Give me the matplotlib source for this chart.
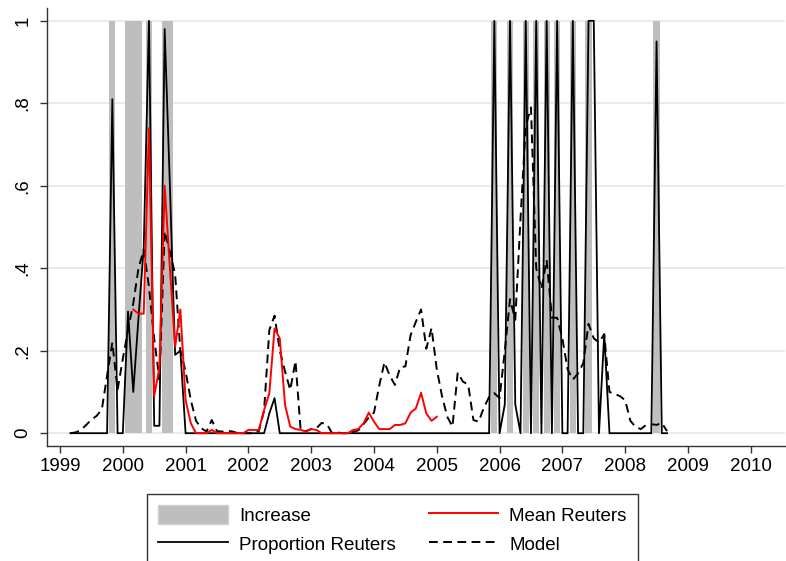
import matplotlib
matplotlib.use('Agg')
from matplotlib import pyplot as plt
from matplotlib.patches import Patch
from matplotlib.lines import Line2D
import numpy as np

matplotlib.rcParams['font.family'] = ['Liberation Sans', 'DejaVu Sans']
matplotlib.rcParams['font.size'] = 13.5

# months counted from Jan 1999 (0 = Jan 1999)
start_month = 2          # Mar 1999, first obs of proportion / model
red_start_month = 14     # Mar 2000, first obs of mean reuters

# months with a rate increase
increase_months = [10, 13, 14, 15, 17, 20, 21,
                   83, 86, 89, 91, 93, 95, 98, 101, 114]

# proportion of reuters poll expecting an increase, Mar 1999 - Sep 2008
proportion_reuters = [
	0, 0, 0, 0, 0, 0, 0, 0,                           # 1999 Mar-Oct
	0.81, 0, 0,                                       # Nov 1999 - Jan 2000
	0.295, 0.10, 0.28, 0.45, 1.0, 0.018, 0.018, 0.98, 0.6, 0.19, 0.2,
	0, 0, 0, 0, 0, 0, 0, 0, 0, 0, 0, 0,               # 2001
	0, 0, 0, 0, 0.048, 0.085, 0, 0, 0, 0, 0, 0,       # 2002
	0, 0, 0, 0, 0, 0, 0, 0, 0, 0, 0, 0,               # 2003
	0, 0, 0, 0, 0, 0, 0, 0, 0, 0, 0, 0,               # 2004
	0, 0, 0, 0, 0, 0, 0, 0, 0, 0, 0, 1,               # 2005
	0, 0.07, 1, 0.07, 0, 1, 0, 1, 0, 1, 0, 1,         # 2006
	0, 0, 1, 0, 0, 1, 1, 0, 0.24, 0, 0, 0,            # 2007
	0, 0, 0, 0, 0, 0, 0.95, 0, 0,                     # 2008 Jan-Sep
]

# model probability, Mar 1999 - Sep 2008
model = [
	0.0, 0.002, 0.008, 0.02, 0.033, 0.042, 0.058, 0.14, 0.22, 0.105,
	0.18, 0.25, 0.315, 0.40, 0.445, 0.355, 0.23, 0.13, 0.49, 0.44, 0.385, 0.20,
	0.15, 0.08, 0.03, 0.012, 0.004, 0.032, 0.005, 0.004, 0.006, 0.004, 0.0, 0.0,
	0.0, 0.0, 0.005, 0.055, 0.25, 0.285, 0.20, 0.15, 0.105, 0.175, 0.005, 0.005,
	0.01, 0.012, 0.025, 0.022, 0.0, 0.002, 0.0, 0.0, 0.003, 0.007, 0.022, 0.038,
	0.05, 0.115, 0.172, 0.14, 0.117, 0.16, 0.162, 0.238, 0.27, 0.30, 0.205, 0.255,
	0.155, 0.09, 0.04, 0.016, 0.147, 0.125, 0.118, 0.032, 0.028, 0.062, 0.088, 0.097,
	0.085, 0.20, 0.325, 0.275, 0.52, 0.745, 0.79, 0.40, 0.35, 0.42, 0.28, 0.28,
	0.23, 0.155, 0.13, 0.145, 0.17, 0.265, 0.23, 0.22, 0.24, 0.10, 0.095, 0.09,
	0.08, 0.03, 0.015, 0.01, 0.02, 0.022, 0.02, 0.025, 0.005,
]

# mean reuters expectation, Mar 2000 - Jan 2005
mean_reuters = [
	0.30, 0.29, 0.29, 0.74, 0.09, 0.16, 0.60, 0.40, 0.21, 0.30,
	0.08, 0.024, 0.0, 0.0, 0.0, 0.008, 0.0, 0.0, 0.0, 0.0, 0.0, 0.0,
	0.008, 0.008, 0.008, 0.056, 0.097, 0.254, 0.23, 0.069, 0.016, 0.01, 0.008, 0.004,
	0.01, 0.008, 0.0, 0.0, 0.0, 0.0, 0.0, 0.0, 0.008, 0.01, 0.024, 0.05,
	0.028, 0.01, 0.01, 0.01, 0.02, 0.02, 0.024, 0.05, 0.06, 0.098, 0.048, 0.03,
	0.04,
]

year_ticks = list(range(1999, 2011))
y_ticks = [0, 0.2, 0.4, 0.6, 0.8, 1.0]
y_tick_labels = ['0', '.2', '.4', '.6', '.8', '1']

C_BAR = '#bebebe'
C_GRID = '#e6e6e6'


def to_year(months):
	return 1999 + np.asarray(months, dtype=float) / 12.0


def main():
	assert len(proportion_reuters) == len(model)
	t = to_year(np.arange(start_month, start_month + len(model)))
	t_red = to_year(np.arange(red_start_month, red_start_month + len(mean_reuters)))

	fig = plt.figure(figsize=(7.86, 5.61), dpi=100)
	ax = fig.add_axes([0.0594, 0.205, 0.9393, 0.7807])

	ax.bar(to_year(increase_months), np.ones(len(increase_months)), width=0.1,
		color=C_BAR, edgecolor='none', zorder=1)
	ax.plot(t, proportion_reuters, color='black', lw=1.3, ls='-', zorder=3)
	ax.plot(t_red, mean_reuters, color='#ff0000', lw=1.4, ls='-', zorder=4)
	ax.plot(t, model, color='black', lw=1.4, dashes=(4.5, 2.8), zorder=2)

	ax.set_xlim(1998.788, 2010.545)
	ax.set_ylim(-0.031, 1.031)
	ax.set_xticks(year_ticks)
	ax.set_xticklabels([str(y) for y in year_ticks])
	ax.set_yticks(y_ticks)
	ax.set_yticklabels(y_tick_labels, rotation=90, va='center')

	ax.set_axisbelow(True)
	ax.grid(axis='y', color=C_GRID, linewidth=1.2)
	ax.grid(axis='x', visible=False)
	for side in ['top', 'right']:
		ax.spines[side].set_visible(False)
	for side in ['left', 'bottom']:
		ax.spines[side].set_color('#333333')
		ax.spines[side].set_linewidth(1.0)
	ax.tick_params(axis='both', direction='out', length=5, width=1.0, color='#333333')
	ax.tick_params(axis='x', pad=4)
	ax.tick_params(axis='y', pad=6)

	handles = [
		Patch(facecolor=C_BAR, edgecolor='#d0d0d0', label='Increase'),
		Line2D([], [], color='black', lw=1.3, label='Proportion Reuters'),
		Line2D([], [], color='#ff0000', lw=1.4, label='Mean Reuters'),
		Line2D([], [], color='black', lw=1.4, dashes=(4.5, 2.8), label='Model'),
	]
	legend = fig.legend(handles=handles, loc='upper left', ncol=2, mode='expand',
		bbox_to_anchor=(0.187, 0.0, 0.6247, 0.1194), borderaxespad=0,
		fancybox=False, framealpha=1, edgecolor='#333333',
		handlelength=3.7, handleheight=1.15, handletextpad=0.6,
		labelspacing=0.5, borderpad=0.6)
	legend.get_frame().set_linewidth(1.0)

	fig.savefig('out.png', dpi=100)


if __name__ == '__main__':
	main()
